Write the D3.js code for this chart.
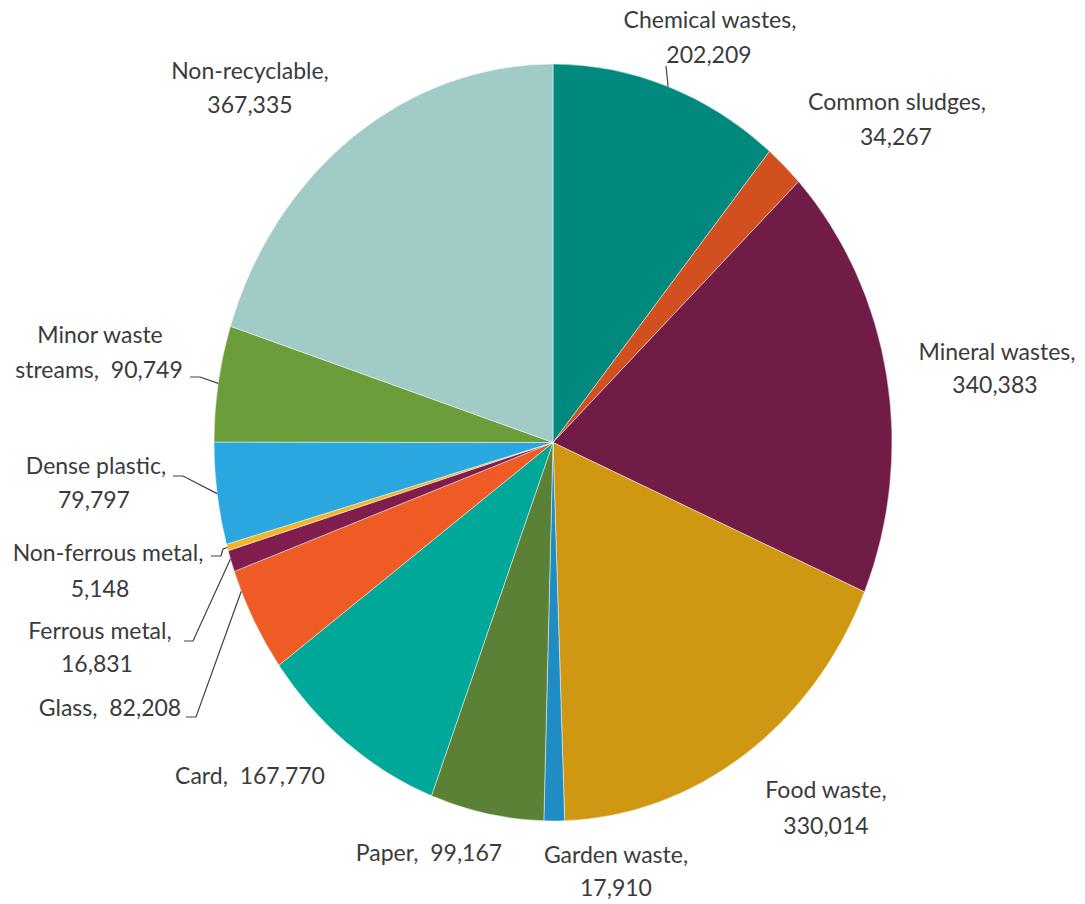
<!DOCTYPE html>
<html>
<head>
<meta charset="utf-8">
<script src="https://cdn.jsdelivr.net/npm/d3@7"></script>
<style>
  body { margin: 0; background: #fff; }
  text { font-family: Lato, "Open Sans", sans-serif; font-size: 23px; fill: #3b3b3b; }
</style>
</head>
<body>
<svg id="chart" width="1085" height="904"></svg>
<script>
(function() {

// DATA
	var categories = ["Chemical wastes", "Common sludges", "Mineral wastes", "Food waste",
		"Garden waste", "Paper", "Card", "Glass", "Ferrous metal", "Non-ferrous metal",
		"Dense plastic", "Minor waste streams", "Non-recyclable"];
	var tonnes = [202209, 34267, 340383, 330014, 17910, 99167, 167770, 82208, 16831, 5148,
		79797, 90749, 367335];
	var colors = ["#00897c", "#d24f1f", "#701c46", "#d09712", "#1f8dc3", "#5b8136",
		"#00a89a", "#ee5b24", "#7f1d4e", "#f2b526", "#2aa7de", "#6c9d3b", "#a1cbc6"];

// LAYOUT (label lines: [text, x centre, baseline])
	var labelLines = [
		[["Chemical wastes,", 710, 28], ["202,209", 709, 63]],
		[["Common sludges,", 897, 110], ["34,267", 896, 145]],
		[["Mineral wastes,", 997, 360], ["340,383", 995, 393]],
		[["Food waste,", 826, 798], ["330,014", 826, 834]],
		[["Garden waste,", 616, 863], ["17,910", 616, 896]],
		[["Paper,  99,167", 429, 861]],
		[["Card,  167,770", 250, 784]],
		[["Glass,  82,208", 110, 716]],
		[["Ferrous metal,", 100, 639], ["16,831", 97, 672]],
		[["Non-ferrous metal,", 108, 561], ["5,148", 100, 597]],
		[["Dense plastic,", 96, 474], ["79,797", 94, 508]],
		[["Minor waste", 100, 343], ["streams,  90,749", 99, 378]],
		[["Non-recyclable,", 250, 79], ["367,335", 250, 113]]
	];
	// leader lines: slice index, start point, optional elbow, position inside slice
	var leaders = [
		{i: 0, pts: [[666, 66]], at: 0.5},
		{i: 11, pts: [[190, 377], [200, 377]], at: 0.5},
		{i: 10, pts: [[173, 476], [183, 476]], at: 0.5},
		{i: 9, pts: [[211, 556], [221, 556], [223, 549]], at: 0.5},
		{i: 8, pts: [[184, 641], [193, 641]], at: 0.6},
		{i: 7, pts: [[186, 717], [196, 717]], at: 0.8}
	];

	var cx = 553, cy = 442.5, rx = 339, ry = 378.5;
	var svg = d3.select('#chart');

	var pie = d3.pie().sort(null).value(function(d) { return d; });
	var arcs = pie(tonnes);
	var arc = d3.arc().innerRadius(0).outerRadius(rx);

	var g = svg.append('g')
		.attr('transform', 'translate(' + cx + ',' + cy + ') scale(1,' + (ry / rx) + ')');

	g.selectAll('path.slice')
		.data(arcs)
		.enter()
		.append('path')
		.attr('class', 'slice')
		.attr('d', arc)
		.attr('fill', function(d, i) { return colors[i]; })
		.attr('stroke', '#ffffff')
		.attr('stroke-opacity', 0.55)
		.attr('stroke-width', 0.8);

	function edgePoint(a) {
		return [cx + rx * Math.sin(a), cy - ry * Math.cos(a)];
	}

	var line = d3.line();
	svg.selectAll('path.leader')
		.data(leaders)
		.enter()
		.append('path')
		.attr('class', 'leader')
		.attr('fill', 'none')
		.attr('stroke', '#404040')
		.attr('stroke-width', 1.2)
		.attr('d', function(d) {
			var s = arcs[d.i];
			var a = s.startAngle + d.at * (s.endAngle - s.startAngle);
			return line(d.pts.concat([edgePoint(a)]));
		});

	var labels = svg.selectAll('g.label')
		.data(labelLines)
		.enter()
		.append('g')
		.attr('class', 'label');

	labels.selectAll('text')
		.data(function(d) { return d; })
		.enter()
		.append('text')
		.attr('x', function(d) { return d[1]; })
		.attr('y', function(d) { return d[2]; })
		.attr('text-anchor', 'middle')
		.attr('xml:space', 'preserve')
		.text(function(d) { return d[0]; });

})()
</script>
</body>
</html>
